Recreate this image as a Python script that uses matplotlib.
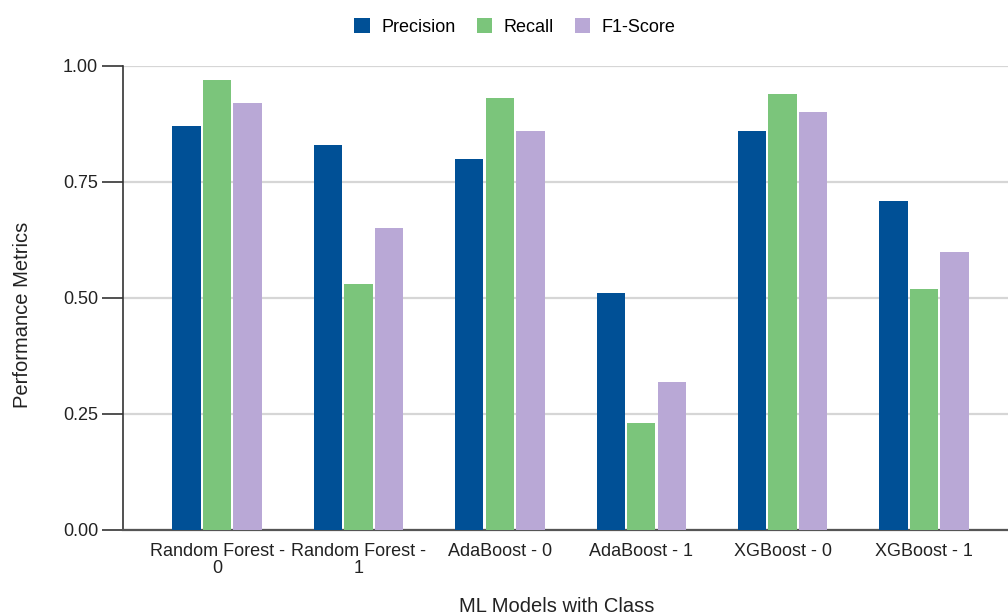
import matplotlib
matplotlib.use("Agg")
import matplotlib.pyplot as plt
import numpy as np

plt.rcParams['font.family'] = ['Liberation Sans', 'DejaVu Sans']

categories = ["Random Forest -\n0", "Random Forest -\n1", "AdaBoost - 0",
              "AdaBoost - 1", "XGBoost - 0", "XGBoost - 1"]
precision = [0.87, 0.83, 0.80, 0.51, 0.86, 0.71]
recall = [0.97, 0.53, 0.93, 0.23, 0.94, 0.52]
f1_score = [0.92, 0.65, 0.86, 0.32, 0.90, 0.60]
series_names = ["Precision", "Recall", "F1-Score"]
yticks = [0.00, 0.25, 0.50, 0.75, 1.00]

colors = ["#005096", "#7BC57B", "#B9A8D6"]

fig = plt.figure(figsize=(10.08, 6.15), dpi=100)
ax = fig.add_axes([123 / 1008, 1 - 530 / 615, (1008 - 123) / 1008, (530 - 66) / 615])

x = np.arange(len(categories))
step = 0.216
width = 0.2
for i, (vals, name) in enumerate(zip([precision, recall, f1_score], series_names)):
    ax.bar(x + (i - 1) * step, vals, width=width, color=colors[i], label=name,
           zorder=3)

ax.set_xlim(-0.665, 5.594)
ax.set_ylim(0, 1.0)
ax.set_yticks(yticks)
ax.set_yticklabels([f"{v:.2f}" for v in yticks])
ax.set_xticks(x)
ax.set_xticklabels(categories, linespacing=1.05)

ax.yaxis.grid(True, color="#d6d6d6", linewidth=1.6, zorder=0)
ax.set_axisbelow(True)
for s in ["top", "right"]:
    ax.spines[s].set_visible(False)
ax.spines["left"].set_color("#333333")
ax.spines["left"].set_linewidth(1.2)
ax.spines["bottom"].set_color("#555555")
ax.spines["bottom"].set_linewidth(1.6)
ax.tick_params(axis="y", length=15, width=1.2, color="#333333", labelsize=13,
               labelcolor="#222222", pad=3)
ax.tick_params(axis="x", length=0, labelsize=13, labelcolor="#222222", pad=9)

fig.text(23 / 1008, 1 - 315 / 615, "Performance Metrics", fontsize=14.5,
         color="#222222", ha="center", va="center", rotation=90)
fig.text(557 / 1008, 1 - 606 / 615, "ML Models with Class", fontsize=14.5,
         color="#222222", ha="center", va="center")

leg = ax.legend(loc="center", bbox_to_anchor=(515 / 1008, 1 - 27 / 615),
                bbox_transform=fig.transFigure, ncol=3, frameon=False,
                fontsize=13, handlelength=0.85, handleheight=0.85,
                handletextpad=0.65, columnspacing=1.15)

fig.savefig("out.png", dpi=100)
